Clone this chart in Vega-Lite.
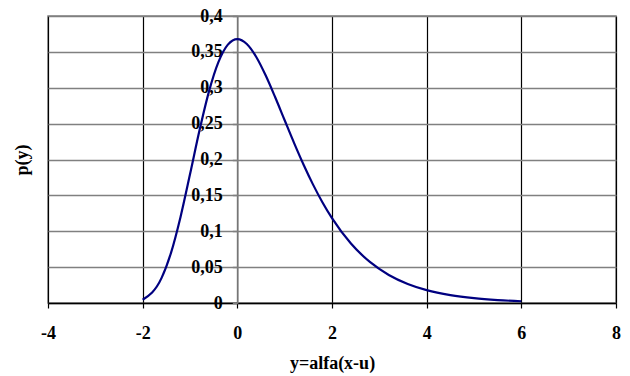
{
  "$schema": "https://vega.github.io/schema/vega-lite/v6.json",
  "width": 568,
  "height": 287,
  "autosize": "none",
  "padding": {"left": 48, "top": 16, "right": 14, "bottom": 73},
  "background": "white",
  "config": {
    "view": {"stroke": "#808080", "strokeWidth": 1.5},
    "font": "Liberation Serif, serif"
  },
  "data": {
    "values": [
      {"y": -2.0, "p": 0.00457},
      {"y": -1.6, "p": 0.03498},
      {"y": -1.4, "p": 0.07028},
      {"y": -1.2, "p": 0.12002},
      {"y": -1.0, "p": 0.17937},
      {"y": -0.8, "p": 0.24038},
      {"y": -0.6, "p": 0.29461},
      {"y": -0.4, "p": 0.33561},
      {"y": -0.2, "p": 0.36009},
      {"y": 0.0, "p": 0.36788},
      {"y": 0.2, "p": 0.36105},
      {"y": 0.4, "p": 0.34289},
      {"y": 0.6, "p": 0.31701},
      {"y": 0.8, "p": 0.28670},
      {"y": 1.0, "p": 0.25465},
      {"y": 1.2, "p": 0.22286},
      {"y": 1.4, "p": 0.19270},
      {"y": 1.6, "p": 0.16499},
      {"y": 1.8, "p": 0.14011},
      {"y": 2.0, "p": 0.11820},
      {"y": 2.4, "p": 0.08285},
      {"y": 2.8, "p": 0.05722},
      {"y": 3.2, "p": 0.03913},
      {"y": 3.6, "p": 0.02659},
      {"y": 4.0, "p": 0.01798},
      {"y": 4.5, "p": 0.01099},
      {"y": 5.0, "p": 0.00669},
      {"y": 5.5, "p": 0.00407},
      {"y": 6.0, "p": 0.00247}
    ]
  },
  "mark": {"type": "line", "color": "#000080", "strokeWidth": 2.2, "interpolate": "monotone"},
  "encoding": {
    "x": {
      "field": "y",
      "type": "quantitative",
      "scale": {"domain": [-4, 8], "nice": false, "zero": false},
      "axis": {
        "values": [-4, -2, 0, 2, 4, 6, 8],
        "labelExpr": "'' + datum.value",
        "title": "y=alfa(x-u)",
        "titleFont": "Liberation Serif, serif",
        "titleFontSize": 18,
        "titleFontWeight": "bold",
        "titleColor": "black",
        "titlePadding": 12,
        "labelFont": "Liberation Serif, serif",
        "labelFontSize": 18,
        "labelFontWeight": "bold",
        "labelColor": "black",
        "labelPadding": 16,
        "domainColor": "black",
        "domainWidth": 1.5,
        "tickColor": "black",
        "tickSize": 5,
        "tickWidth": 1.2,
        "grid": true,
        "gridColor": "black",
        "gridWidth": 1.2,
        "labelFlush": false,
        "labelOverlap": false
      }
    },
    "y": {
      "field": "p",
      "type": "quantitative",
      "scale": {"domain": [0, 0.4], "nice": false},
      "axis": {
        "values": [0, 0.05, 0.1, 0.15, 0.2, 0.25, 0.3, 0.35, 0.4],
        "labelExpr": "replace(format(datum.value, ''), '.', ',')",
        "offset": -189.33,
        "title": "p(y)",
        "titleFont": "Liberation Serif, serif",
        "titleFontSize": 18,
        "titleFontWeight": "bold",
        "titleColor": "black",
        "titleAngle": -90,
        "titleX": -215,
        "titleY": 143.5,
        "titleAlign": "center",
        "titleBaseline": "middle",
        "labelFont": "Liberation Serif, serif",
        "labelFontSize": 18,
        "labelFontWeight": "bold",
        "labelColor": "black",
        "labelPadding": 10,
        "domainColor": "#808080",
        "domainWidth": 1.5,
        "tickColor": "#808080",
        "tickSize": 5,
        "tickWidth": 1.5,
        "grid": true,
        "gridColor": "#808080",
        "gridWidth": 1.5,
        "labelFlush": false,
        "labelOverlap": false
      }
    }
  }
}
